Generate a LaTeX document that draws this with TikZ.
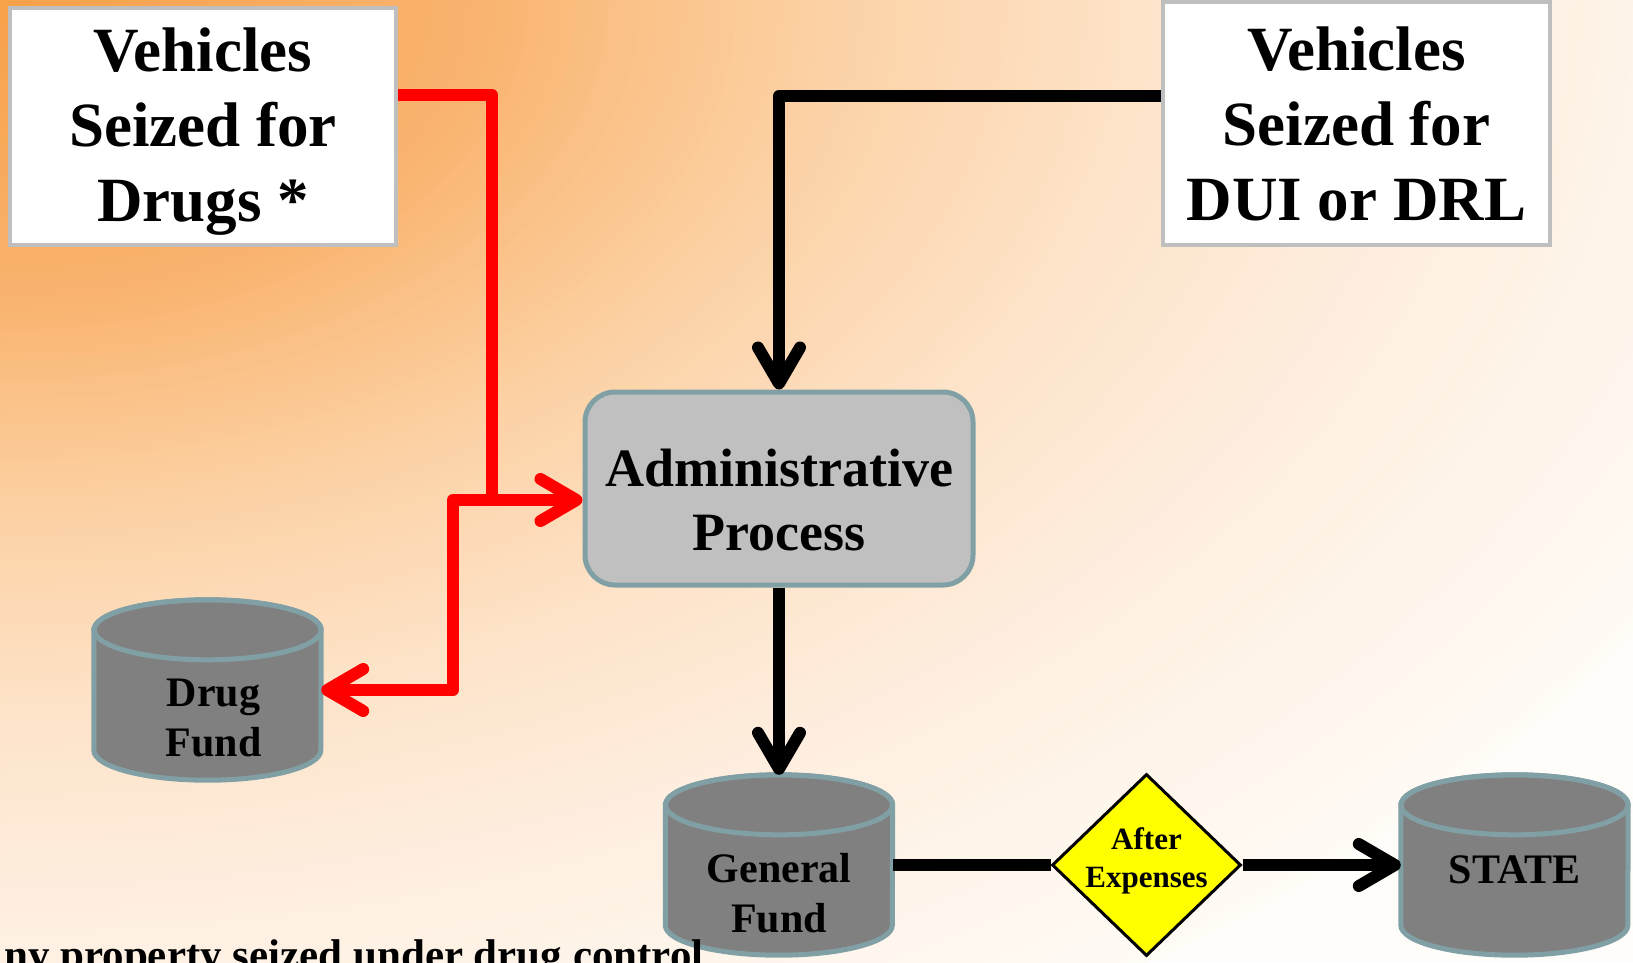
\documentclass[tikz,border=0pt]{standalone}
\usepackage{fontspec}
\setmainfont{Liberation Serif}
\usetikzlibrary{arrows.meta,shapes.geometric}

% background gradient stops
\definecolor{bgA}{HTML}{F7A048}
\definecolor{bgB}{HTML}{F9B36E}
\definecolor{bgC}{HTML}{FCCFA0}
\definecolor{bgD}{HTML}{FDE2C6}
\definecolor{bgE}{HTML}{FEEEDF}
\definecolor{bgF}{HTML}{FFFBF5}
\definecolor{bgG}{HTML}{FFFDF9}
% element colours
\definecolor{rim}{RGB}{128,160,165}
\definecolor{srcrim}{HTML}{BFBFBF}
\definecolor{procfill}{HTML}{C0C0C0}
\definecolor{fundfill}{HTML}{808080}
\definecolor{flowred}{HTML}{FF0000}
\definecolor{gateyellow}{HTML}{FFFF00}

\pgfdeclarelayer{back}
\pgfdeclarelayer{mid}
\pgfsetlayers{back,mid,main}

\tikzset{
  srcbox/.style={draw=srcrim, line width=4pt, fill=white, inner sep=0pt},
  srctext/.style={align=center, inner sep=0pt, font=\fontsize{63}{75}\selectfont\bfseries},
  procbox/.style={draw=rim, line width=5pt, fill=procfill, rounded corners=30pt, inner sep=0pt},
  fundbox/.style={inner sep=0pt, minimum width=227pt, minimum height=180pt},
  cylbody/.style={draw=rim, line width=5pt, fill=fundfill},
  cyltop/.style={draw=rim, line width=5pt},
  fundtext/.style={align=center, inner sep=0pt, font=\fontsize{42}{50}\selectfont\bfseries},
  proctext/.style={align=center, inner sep=0pt, font=\fontsize{54}{64}\selectfont\bfseries},
  gate/.style={diamond, draw=black, line width=3pt, fill=gateyellow, inner sep=0pt,
    minimum width=189pt, minimum height=182pt},
  gatetext/.style={align=center, inner sep=0pt, font=\fontsize{31}{38}\selectfont\bfseries},
  redflow/.style={draw=flowred, line width=12pt, line join=round},
  blackflow/.style={draw=black, line width=12pt, line join=round},
}

% cylinder drawn around a named fund node: #1 node, #2 half width
\newcommand\fundcyl[2]{%
  \path[cylbody] ([yshift=-30pt]#1.north west) -- ([yshift=30pt]#1.south west)
    arc[start angle=180, end angle=360, x radius=#2, y radius=30]
    -- ([yshift=-30pt]#1.north east)
    arc[start angle=0, end angle=180, x radius=#2, y radius=30] -- cycle;
  \path[cyltop] ([yshift=-30pt]#1.north) ellipse[x radius=#2, y radius=30];
}

\begin{document}
\begin{tikzpicture}[x=1pt, y=1pt, >={Straight Barb[length=36pt,width=42pt,round]}]
\useasboundingbox (0,0) rectangle (1633,-962);

% warm gradient spreading from the top-left corner
\begin{pgfonlayer}{back}
  \clip (0,0) rectangle (1633,-962);
  \fill[bgG] (0,0) rectangle (1633,-962);
  \foreach \r in {1200,1190,...,910} {
    \pgfmathsetmacro\p{(1200-\r)/3}
    \fill[bgE!\p!bgF] (0,0) ellipse[x radius=1.6*\r, y radius=\r];
  }
  \foreach \r in {900,890,...,710} {
    \pgfmathsetmacro\p{(900-\r)/2}
    \fill[bgD!\p!bgE] (0,0) ellipse[x radius=1.6*\r, y radius=\r];
  }
  \foreach \r in {700,690,...,510} {
    \pgfmathsetmacro\p{(700-\r)/2}
    \fill[bgC!\p!bgD] (0,0) ellipse[x radius=1.6*\r, y radius=\r];
  }
  \foreach \r in {500,490,...,310} {
    \pgfmathsetmacro\p{(500-\r)/2}
    \fill[bgB!\p!bgC] (0,0) ellipse[x radius=1.6*\r, y radius=\r];
  }
  \foreach \r in {300,290,...,10} {
    \pgfmathsetmacro\p{(300-\r)/3}
    \fill[bgA!\p!bgB] (0,0) ellipse[x radius=1.6*\r, y radius=\r];
  }
\end{pgfonlayer}

% sources
\node[srcbox, minimum width=386pt, minimum height=237pt,
  label={[srctext, yshift=-5pt]center:Vehicles\\Seized for\\Drugs *}] (drugsrc) at (203,-126.5) {};
\node[srcbox, minimum width=387pt, minimum height=243pt,
  label={[srctext]center:Vehicles\\Seized for\\DUI or DRL}] (duisrc) at (1356.5,-123.5) {};

% process
\node[procbox, minimum width=388pt, minimum height=193pt,
  label={[proctext, yshift=-11.5pt]center:Administrative\\Process}] (admin) at (779,-488.5) {};

% funds
\node[fundbox, label={[fundtext, xshift=6pt, yshift=-28pt]center:Drug\\Fund}] (drugfund) at (207.5,-690) {};
\node[fundbox, label={[fundtext, yshift=-28.5pt]center:General\\Fund}] (genfund) at (779,-865) {};
\node[fundbox, label={[fundtext, yshift=-5pt]center:STATE}] (state) at (1514.5,-865) {};
\begin{pgfonlayer}{mid}
  \fundcyl{drugfund}{113.5}
  \fundcyl{genfund}{113.5}
  \fundcyl{state}{113.5}
\end{pgfonlayer}

% decision
\node[gate, label={[gatetext, yshift=4pt]center:After\\Expenses}] (gate) at (1146.5,-865) {};

% connectors
\coordinate (split) at (492,-500);
\draw[redflow, ->] ([yshift=31.5pt]drugsrc.east) -| (split) -- (split -| admin.west);
\draw[redflow, ->] (split) -- ++(-39,0) |- (drugfund.east);
\draw[blackflow, ->] ([yshift=27.5pt]duisrc.west) -| (admin.north);
\draw[blackflow, ->] (admin.south) -- (genfund.north);
\draw[blackflow] (genfund.east) -- (gate.west);
\draw[blackflow, ->] (gate.east) -- (state.west);

% footnote running off the lower edge
\begin{scope}
  \clip (0,0) rectangle (1633,-962);
  \node[anchor=base west, inner sep=0pt, font=\fontsize{43}{50}\selectfont\bfseries] (note)
    at (4,-969) {ny property seized under drug control};
\end{scope}
\end{tikzpicture}
\end{document}
